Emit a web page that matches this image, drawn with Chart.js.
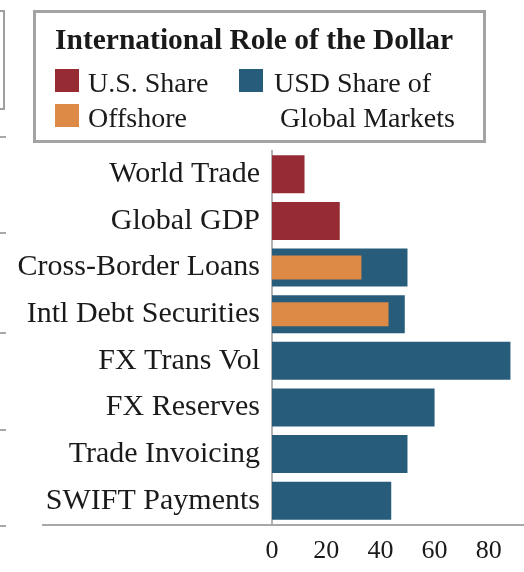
<!DOCTYPE html>
<html>
<head>
<meta charset="utf-8">
<script src="https://cdn.jsdelivr.net/npm/chart.js@4.4.1/dist/chart.umd.min.js"></script>
<style>
    html, body { margin: 0; padding: 0; background: #fff; }
    body { width: 524px; height: 572px; position: relative; overflow: hidden; font-family: 'Liberation Serif', serif; color: #1a1a1a; }
    #wrap { position: absolute; left: 0; top: 0; width: 524px; height: 572px; }
    .abs { position: absolute; white-space: nowrap; line-height: 1; }
    .sw { position: absolute; width: 24px; height: 23px; }
    .frag { position: absolute; background: #a8a8a8; }
</style>
</head>
<body>
<div id="wrap"><canvas id="roleChart" width="524" height="572"></canvas></div>

<!-- bits of the neighbouring panel cut off on the left -->
<div class="abs" style="left:-10px; top:10px; width:11px; height:96px; border:2px solid #a0a0a0;"></div>
<div class="frag" style="left:0; top:136px; width:6px; height:2px;"></div>
<div class="frag" style="left:0; top:232px; width:6px; height:2px;"></div>
<div class="frag" style="left:0; top:332px; width:6px; height:2px;"></div>
<div class="frag" style="left:0; top:429px; width:6px; height:2px;"></div>
<div class="frag" style="left:0; top:525px; width:6px; height:2px;"></div>

<!-- legend box -->
<div class="abs" style="left:33px; top:10px; width:447px; height:127px; border:3px solid #a3a3a3;"></div>
<div class="abs" id="legTitle" style="left:55px; top:25px; font-size:29.5px; font-weight:bold;"></div>
<div class="sw" id="sw0" style="left:55px; top:69px;"></div>
<div class="abs" id="lab0" style="left:88px; top:69px; font-size:28px;"></div>
<div class="sw" id="sw1" style="left:55px; top:104px;"></div>
<div class="abs" id="lab1" style="left:88px; top:104px; font-size:28px;"></div>
<div class="sw" id="sw2" style="left:239px; top:69px;"></div>
<div class="abs" id="lab2a" style="left:274px; top:69px; font-size:28px;"></div>
<div class="abs" id="lab2b" style="left:280px; top:104px; font-size:28px;"></div>

<script>
// data
const chartTitle = 'International Role of the Dollar';
const categories = ['World Trade', 'Global GDP', 'Cross-Border Loans', 'Intl Debt Securities',
    'FX Trans Vol', 'FX Reserves', 'Trade Invoicing', 'SWIFT Payments'];
const usShare   = [12, 25, null, null, null, null, null, null];
const offshore  = [null, null, 33, 43, null, null, null, null];
const usdGlobal = [null, null, 50, 49, 88, 60, 50, 44];
const xTicks = [0, 20, 40, 60, 80];
const seriesNames = ['U.S. Share', 'Offshore', 'USD Share of Global Markets'];

const RED = '#962b34', ORANGE = '#dc8a45', BLUE = '#275c7b';
const FONT = "'Liberation Serif', serif";

// legend (html)
document.getElementById('legTitle').textContent = chartTitle;
document.getElementById('sw0').style.background = RED;
document.getElementById('sw1').style.background = ORANGE;
document.getElementById('sw2').style.background = BLUE;
document.getElementById('lab0').textContent = seriesNames[0];
document.getElementById('lab1').textContent = seriesNames[1];
document.getElementById('lab2a').textContent = 'USD Share of';
document.getElementById('lab2b').textContent = 'Global Markets';

// long grey rule under the panel
const baseLine = {
    id: 'baseLine',
    afterDraw(chart) {
        const { ctx, chartArea } = chart;
        ctx.save();
        ctx.strokeStyle = '#a8a8a8';
        ctx.lineWidth = 2;
        ctx.beginPath();
        ctx.moveTo(42, chartArea.bottom + 1);
        ctx.lineTo(chartArea.right, chartArea.bottom + 1);
        ctx.stroke();
        ctx.restore();
    }
};

const ctx = document.getElementById('roleChart').getContext('2d');
new Chart(ctx, {
    type: 'bar',
    data: {
        labels: categories,
        datasets: [
            {
                label: seriesNames[1], data: offshore, backgroundColor: ORANGE,
                barPercentage: 0.515, categoryPercentage: 1, grouped: false, order: 0
            },
            {
                label: seriesNames[0], data: usShare, backgroundColor: RED,
                barPercentage: 0.815, categoryPercentage: 1, grouped: false, order: 1
            },
            {
                label: seriesNames[2], data: usdGlobal, backgroundColor: BLUE,
                barPercentage: 0.815, categoryPercentage: 1, grouped: false, order: 1
            }
        ]
    },
    options: {
        indexAxis: 'y',
        responsive: false,
        animation: false,
        layout: { padding: { top: 151, right: 0, bottom: 0, left: 0 } },
        plugins: { legend: { display: false }, tooltip: { enabled: false } },
        scales: {
            x: {
                min: 0, max: 93,
                grid: { display: false },
                border: { display: false },
                afterBuildTicks: scale => { scale.ticks = xTicks.map(v => ({ value: v })); },
                afterFit: scale => { scale.height = 48; },
                ticks: { font: { family: FONT, size: 26 }, color: '#1a1a1a', padding: 4, maxRotation: 0 }
            },
            y: {
                grid: { display: false, drawTicks: false },
                border: { display: true, color: '#b3b3b3', width: 2 },
                afterFit: scale => { scale.width = 272; },
                ticks: { font: { family: FONT, size: 30 }, color: '#1a1a1a', padding: 12 }
            }
        }
    },
    plugins: [baseLine]
});
</script>
</body>
</html>
